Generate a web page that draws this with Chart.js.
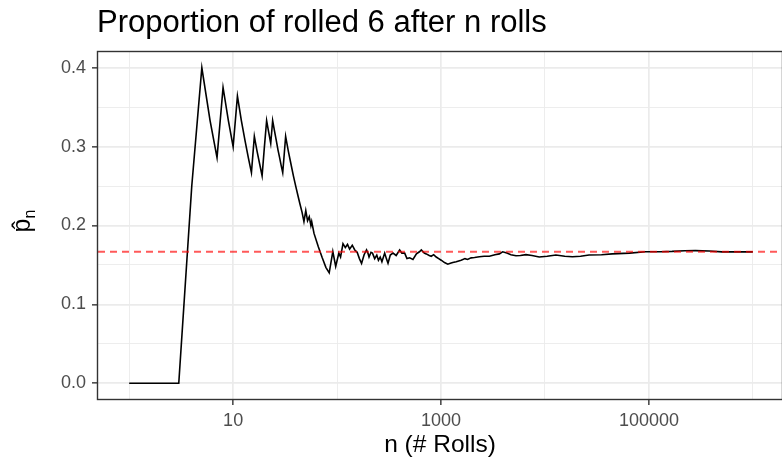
<!DOCTYPE html>
<html>
<head>
<meta charset="utf-8">
<script src="https://cdn.jsdelivr.net/npm/chart.js@4.4.0/dist/chart.umd.min.js"></script>
<style>
  html, body { margin: 0; padding: 0; background: #fff; }
</style>
</head>
<body>
<canvas id="rollsChart" width="782" height="462"></canvas>
<script>
// number of rolls and the running proportion of sixes
const rolls = [
  1, 2, 3, 4, 5, 6, 7, 8, 9, 10, 11, 12, 13, 14, 15, 16, 17, 18, 19, 20,
  21, 22, 23, 24, 25, 26, 27, 28, 29, 30, 31, 32, 34, 36, 38, 40, 42, 44, 46, 48,
  50, 52, 54, 56, 57, 60, 66, 72, 78, 84, 91, 97, 104, 108, 114, 120, 126, 132, 140, 148,
  156, 164, 172, 182, 192, 198, 203, 212, 219, 230, 241, 250, 260, 270, 287, 298, 309, 325, 345, 370,
  400, 420, 447, 470, 500, 537, 580, 620, 646, 690, 721, 770, 805, 850, 899, 950, 1004, 1080, 1162, 1230,
  1298, 1400, 1562, 1700, 1800, 1950, 2100, 2340, 2600, 2918, 3300, 3640, 3916, 4300, 4700, 5263, 5800, 6560, 7500, 8810,
  10500, 12740, 15500, 18370, 22000, 26560, 35000, 44430, 65000, 92900, 130000, 167100, 220000, 280500, 380000, 505000, 700000, 1000000
];
const proportions = [
  0, 0, 0, 0.25, 0.4, 0.333, 0.286, 0.375, 0.333, 0.3, 0.364, 0.333, 0.308, 0.286, 0.267, 0.313, 0.294, 0.278, 0.263, 0.3,
  0.333, 0.318, 0.304, 0.333, 0.32, 0.308, 0.296, 0.286, 0.276, 0.267, 0.29, 0.313, 0.294, 0.278, 0.263, 0.25, 0.238, 0.227, 0.217, 0.205,
  0.219, 0.206, 0.211, 0.2, 0.205, 0.19, 0.173, 0.159, 0.147, 0.14, 0.167, 0.148, 0.165, 0.16, 0.177, 0.172, 0.176, 0.17, 0.175, 0.169,
  0.166, 0.158, 0.152, 0.163, 0.169, 0.165, 0.16, 0.166, 0.165, 0.158, 0.1625, 0.156, 0.16, 0.154, 0.165, 0.158, 0.152, 0.1625, 0.165, 0.162,
  0.169, 0.165, 0.165, 0.158, 0.159, 0.157, 0.164, 0.1667, 0.169, 0.165, 0.164, 0.162, 0.161, 0.163, 0.16, 0.158, 0.156, 0.153, 0.151, 0.152,
  0.153, 0.154, 0.156, 0.158, 0.157, 0.159, 0.1595, 0.1604, 0.161, 0.161, 0.163, 0.164, 0.1667, 0.165, 0.163, 0.1617, 0.162, 0.163, 0.162, 0.16,
  0.161, 0.1625, 0.161, 0.1604, 0.161, 0.1625, 0.163, 0.164, 0.165, 0.1667, 0.1668, 0.1672, 0.168, 0.1682, 0.1676, 0.1666, 0.1665, 0.1665
];
const trueProb = 1 / 6;

const xTicks = [1, 10, 100, 1000, 10000, 100000, 1000000];
const xLabels = ['', '10', '', '1000', '', '100000', ''];
const yTicks = [0, 0.05, 0.1, 0.15, 0.2, 0.25, 0.3, 0.35, 0.4];
const yLabels = ['0.0', '', '0.1', '', '0.2', '', '0.3', '', '0.4'];

// log10 limits of the panel (ggplot-style expansion), 104.25 px per decade
const xMin = Math.pow(10, -0.3);
const xMax = Math.pow(10, -0.3 + 686 / 104.25);

const gridCol = '#EBEBEB';
const inkCol = '#333333';
const labelCol = '#4D4D4D';
const font = '"Liberation Sans", Arial, sans-serif';

const frame = {
  id: 'frame',
  afterDatasetsDraw(chart) {
    const { ctx, chartArea: a } = chart;
    ctx.save();
    ctx.strokeStyle = inkCol;
    ctx.lineWidth = 1.4;
    ctx.strokeRect(a.left - 0.5, a.top - 0.5, a.right - a.left + 1, a.bottom - a.top + 1);
    ctx.restore();
  },
  afterDraw(chart) {
    const { ctx, chartArea: a } = chart;
    ctx.save();
    ctx.fillStyle = '#000';
    ctx.font = '31px ' + font;
    ctx.textAlign = 'left';
    ctx.textBaseline = 'alphabetic';
    ctx.fillText('Proportion of rolled 6 after n rolls', 97, 32);

    ctx.font = '24.5px ' + font;
    ctx.textAlign = 'center';
    ctx.fillText('n (# Rolls)', 440, 452);

    ctx.translate(30, (a.top + a.bottom) / 2);
    ctx.rotate(-Math.PI / 2);
    ctx.font = '25px ' + font;
    ctx.textAlign = 'center';
    ctx.fillText('p\u0302', 0, 0);
    ctx.font = '16px ' + font;
    ctx.textAlign = 'left';
    ctx.fillText('n', 7, 5);
    ctx.restore();
  }
};

new Chart(document.getElementById('rollsChart'), {
  type: 'line',
  data: {
    datasets: [
      {
        label: 'true p',
        data: [{ x: xMin, y: trueProb }, { x: xMax, y: trueProb }],
        borderColor: 'rgba(255, 0, 0, 0.65)',
        borderWidth: 2,
        borderDash: [7, 5],
        pointRadius: 0,
        order: 0
      },
      {
        label: 'proportion',
        data: rolls.map((n, i) => ({ x: n, y: proportions[i] })),
        borderColor: '#000000',
        borderWidth: 1.6,
        pointRadius: 0,
        tension: 0,
        order: 1
      }
    ]
  },
  options: {
    responsive: false,
    animation: false,
    devicePixelRatio: 1,
    layout: { padding: { top: 52, right: 0, bottom: 0, left: 0 } },
    plugins: { legend: { display: false }, tooltip: { enabled: false } },
    scales: {
      x: {
        type: 'logarithmic',
        min: xMin,
        max: xMax,
        afterFit: s => { s.height = 63; },
        afterBuildTicks: s => { s.ticks = xTicks.map(v => ({ value: v })); },
        border: { display: false },
        grid: {
          color: gridCol,
          lineWidth: c => (xLabels[xTicks.indexOf(c.tick && c.tick.value)] ? 1.7 : 0.9),
          tickColor: c => (xLabels[xTicks.indexOf(c.tick && c.tick.value)] ? inkCol : 'rgba(0,0,0,0)'),
          tickLength: 6,
          tickWidth: 1.4
        },
        ticks: {
          autoSkip: false,
          maxRotation: 0,
          padding: 5,
          color: labelCol,
          font: { family: font, size: 18 },
          callback: (v, i) => xLabels[i]
        }
      },
      y: {
        min: -0.02,
        max: 0.42,
        afterFit: s => { s.width = 98; },
        afterBuildTicks: s => { s.ticks = yTicks.map(v => ({ value: v })); },
        border: { display: false },
        grid: {
          color: gridCol,
          lineWidth: c => (c.index % 2 === 0 ? 1.7 : 0.9),
          tickColor: c => (c.index % 2 === 0 ? inkCol : 'rgba(0,0,0,0)'),
          tickLength: 6,
          tickWidth: 1.4
        },
        ticks: {
          autoSkip: false,
          padding: 6,
          color: labelCol,
          font: { family: font, size: 18 },
          callback: (v, i) => yLabels[i]
        }
      }
    }
  },
  plugins: [frame]
});
</script>
</body>
</html>
